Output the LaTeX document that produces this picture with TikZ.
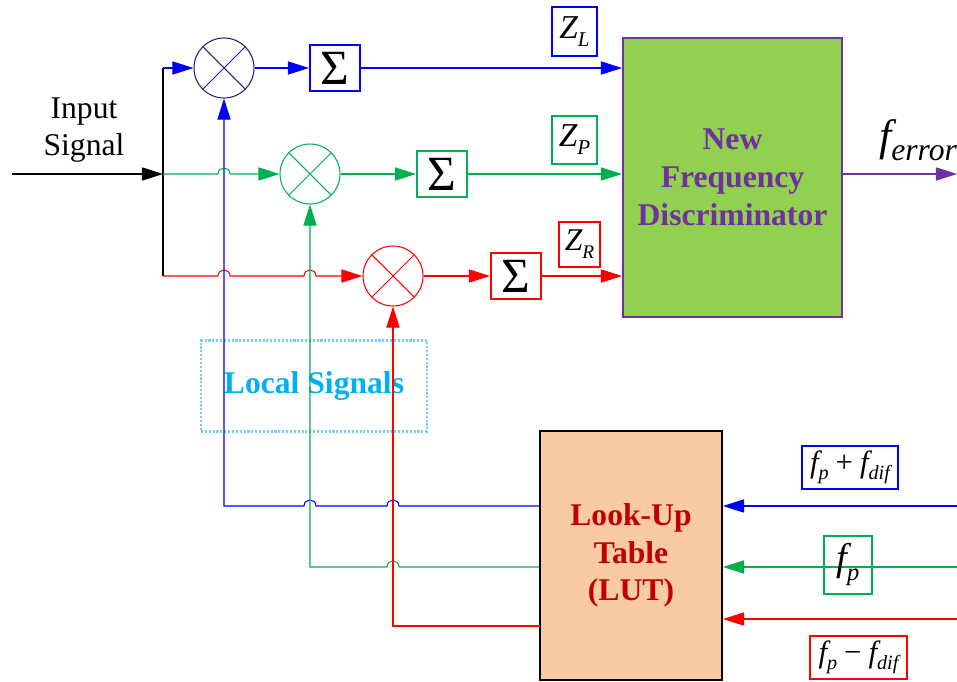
\documentclass[tikz,border=0pt]{standalone}
\usepackage{fontspec}
\setmainfont{Liberation Serif}
\usetikzlibrary{arrows.meta}

\definecolor{lineblue}{RGB}{0,0,255}
\definecolor{mixblue}{RGB}{32,32,128}
\definecolor{linegreen}{RGB}{0,176,80}
\definecolor{linered}{RGB}{255,0,0}
\definecolor{discpurple}{RGB}{112,48,160}
\definecolor{discgreen}{RGB}{146,208,80}
\definecolor{lutpeach}{RGB}{248,203,165}
\definecolor{lutred}{RGB}{192,0,0}
\definecolor{localblue}{RGB}{0,176,240}
\definecolor{localedge}{RGB}{120,205,245}

\tikzset{
	sig/.style={line width=0.6pt, -{Triangle[length=12pt,width=7.5pt]}},
	mixer/.style={circle, draw=#1, line width=0.6pt, minimum size=1.2cm, inner sep=0pt,
		path picture={\draw[#1, line width=0.6pt]
			(path picture bounding box.north west) -- (path picture bounding box.south east)
			(path picture bounding box.north east) -- (path picture bounding box.south west);}},
	sumbox/.style={draw=#1, line width=1.2pt, minimum width=1cm, minimum height=0.92cm,
		inner sep=0pt, font=\fontsize{28}{28}\selectfont},
	lblbox/.style={draw=#1, line width=1.1pt, inner sep=0pt},
	bigtext/.style={align=center, font=\fontsize{18}{21.5}\selectfont\bfseries}
}

\begin{document}
\begin{tikzpicture}[x=0.02cm, y=-0.02cm]
	\useasboundingbox (0,0) rectangle (957,682);
	
	% Mixers
	\node[mixer=mixblue] (bmix) at (224,68) {};
	\node[mixer=linegreen] (gmix) at (310,174) {};
	\node[mixer=linered] (rmix) at (393,276) {};
	
	% Accumulators
	\node[sumbox=lineblue] (bsum) at (335,68) {Σ};
	\node[sumbox=linegreen] (gsum) at (442,174) {Σ};
	\node[sumbox=linered] (rsum) at (516,276) {Σ};
	
	% Discriminator
	\node[draw=discpurple, fill=discgreen, line width=1.1pt, minimum width=4.38cm,
		minimum height=5.58cm, bigtext, text=discpurple] (disc) at (732.5,177.5)
		{New\\Frequency\\Discriminator};
	
	% Look-up table
	\node[draw=black, fill=lutpeach, line width=1.1pt, minimum width=3.64cm,
		minimum height=4.98cm, bigtext, text=lutred] (lut) at (631,555.5)
		{Look-Up\\Table\\(LUT)};
	
	% Local signals
	\node[draw=localedge, densely dotted, line width=1.2pt, minimum width=4.52cm,
		minimum height=1.82cm, bigtext, text=localblue] (local) at (314,386) {Local Signals};
	
	% Input
	\node[align=center, font=\fontsize{18}{21.5}\selectfont] (input) at (84,130) {Input\\Signal};
	\coordinate (in) at (12,174);
	\coordinate (split) at (163,174);
	\draw[sig] (in) -- (split);
	\draw[line width=0.6pt] (split |- bmix) -- (split |- rmix);
	\draw[sig, lineblue] (split |- bmix) -- (bmix);
	\draw[sig, linegreen] (split) -- (218,174) .. controls (218,166) and (230,166) .. (230,174) -- (gmix);
	\draw[sig, linered] (split |- rmix) -- (218,276) .. controls (218,268) and (230,268) .. (230,276)
		-- (304,276) .. controls (304,268) and (316,268) .. (316,276) -- (rmix);
	
	% Mixer to accumulator to discriminator
	\draw[sig, lineblue] (bmix) -- (bsum);
	\draw[sig, linegreen] (gmix) -- (gsum);
	\draw[sig, linered] (rmix) -- (rsum);
	\draw[sig, lineblue] (bsum) -- (bsum -| disc.west);
	\draw[sig, linegreen] (gsum) -- (gsum -| disc.west);
	\draw[sig, linered] (rsum) -- (rsum -| disc.west);
	
	% Output
	\coordinate (out) at (957,174);
	\draw[sig, discpurple] (disc.east |- out) -- (out);
	\node (ferr) at (918,140) {{\fontsize{25}{25}\selectfont\itshape f}\raisebox{-0.2cm}{\fontsize{18}{18}\selectfont\itshape error}};
	
	% Z labels
	\node[lblbox=lineblue, minimum width=0.9cm, minimum height=0.98cm] (zl) at (574.5,31.5)
		{{\fontsize{19}{19}\selectfont\itshape Z}\raisebox{-0.16cm}{\fontsize{12}{12}\selectfont\itshape L}};
	\node[lblbox=linegreen, minimum width=0.9cm, minimum height=0.96cm] (zp) at (574.5,140)
		{{\fontsize{19}{19}\selectfont\itshape Z}\raisebox{-0.16cm}{\fontsize{12}{12}\selectfont\itshape P}};
	\node[lblbox=linered, minimum width=0.82cm, minimum height=0.9cm] (zr) at (579.5,244.5)
		{{\fontsize{18}{18}\selectfont\itshape Z}\raisebox{-0.16cm}{\fontsize{11}{11}\selectfont\itshape R}};
	
	% LUT inputs
	\coordinate (bin) at (957,506);
	\coordinate (gin) at (957,567);
	\coordinate (rin) at (957,619);
	\coordinate (rlo) at (540,626);
	\draw[sig, lineblue] (bin) -- (bin -| lut.east);
	\draw[sig, linegreen] (gin) -- (gin -| lut.east);
	\draw[sig, linered] (rin) -- (rin -| lut.east);
	\node[lblbox=lineblue, minimum width=1.92cm, minimum height=0.86cm] (fplus) at (850,467.5)
		{\fontsize{17.5}{17.5}\selectfont\itshape f\raisebox{-0.14cm}{\fontsize{11.5}{11.5}\selectfont p}\hspace{4pt}\upshape+\hspace{4pt}\itshape f\raisebox{-0.14cm}{\fontsize{11.5}{11.5}\selectfont dif}};
	\node[lblbox=linegreen, minimum width=0.96cm, minimum height=1.16cm] (fp) at (848,565)
		{\fontsize{22}{22}\selectfont\itshape f\raisebox{-0.2cm}{\fontsize{14}{14}\selectfont p}};
	\node[lblbox=linered, minimum width=1.94cm, minimum height=0.86cm] (fminus) at (858.5,657.5)
		{\fontsize{17.5}{17.5}\selectfont\itshape f\raisebox{-0.14cm}{\fontsize{11.5}{11.5}\selectfont p}\hspace{4pt}\upshape−\hspace{4pt}\itshape f\raisebox{-0.14cm}{\fontsize{11.5}{11.5}\selectfont dif}};
	
	% Local signals to mixers
	\draw[sig, lineblue] (lut.west |- bin) -- (399,506) .. controls (399,498) and (387,498) .. (387,506)
		-- (316,506) .. controls (316,498) and (304,498) .. (304,506) -| (bmix.south);
	\draw[sig, linegreen] (lut.west |- gin) -- (399,567) .. controls (399,559) and (387,559) .. (387,567)
		-| (gmix.south);
	\draw[sig, linered] (rlo) -| (rmix.south);
\end{tikzpicture}
\end{document}
